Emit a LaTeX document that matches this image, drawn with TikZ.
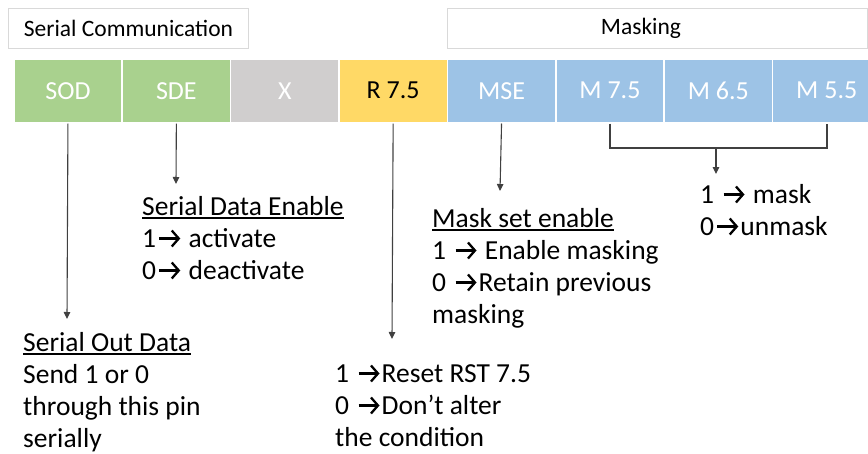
\documentclass[tikz,border=0pt]{standalone}
\usepackage{fontspec}
\setmainfont{Carlito}
\usetikzlibrary{arrows.meta}

\definecolor{sergreen}{HTML}{A9D18E}
\definecolor{resgray}{HTML}{D0CECE}
\definecolor{rstyellow}{HTML}{FFD966}
\definecolor{maskblue}{HTML}{9DC3E6}
\definecolor{framegray}{HTML}{D9D9D9}
\definecolor{linegray}{HTML}{404040}

% right arrow with an open chevron head, used in the descriptions
\newcommand\ra{\hspace{2pt}\tikz[baseline=0pt,x=1pt,y=1pt]\draw[black,line width=2.3pt,
  -{Straight Barb[length=7pt,width=16pt,line width=2.3pt]}] (0,8.5) -- (21,8.5);\hspace{1pt}}
% heading with a thick underline
\newcommand\ulhead[1]{\setbox0\hbox{#1}\rlap{\copy0}\rule[-4pt]{\wd0}{1.6pt}}

\tikzset{
  bitcell/.style={draw=white, line width=1.5pt, minimum width=108.4pt, minimum height=64pt,
    inner sep=0pt, anchor=north west, text=white, font=\fontsize{26}{30}\selectfont},
  groupbox/.style={draw=framegray, line width=1pt, fill=white, minimum height=40pt,
    inner sep=0pt, anchor=north west, font=\fontsize{23.5}{28}\selectfont},
  grouplabel/.style={inner sep=0pt, font=\fontsize{23.5}{28}\selectfont},
  note/.style={align=left, anchor=base west, inner sep=0pt, font=\fontsize{27.5}{32}\selectfont},
  pointer/.style={draw=linegray, line width=1.1pt, -{Triangle[width=6.5pt,length=7pt]}},
  bracketline/.style={draw=linegray, line width=1.1pt}
}

\begin{document}
\begin{tikzpicture}[x=1pt,y=-1pt]
  \useasboundingbox (0,0) rectangle (868,453);
  \begin{scope}
  \clip (0,0) rectangle (868,453);

  % group headings
  \node[groupbox, minimum width=240pt] (serhead) at (8,8) {Serial Communication};
  \node[groupbox, minimum width=420pt] (maskhead) at (447,8) {};
  \node[grouplabel] (masklabel) at (641,28) {Masking};

  % the eight bits of the register
  \node[bitcell, fill=sergreen] (sod) at (13,58) {SOD};
  \node[bitcell, fill=sergreen] (sde) at (121.4,58) {SDE};
  \node[bitcell, fill=resgray] (xbit) at (229.8,58) {X};
  \node[bitcell, fill=rstyellow, text=black] (r75) at (338.2,58) {R 7.5};
  \node[bitcell, fill=maskblue] (mse) at (446.6,58) {MSE};
  \node[bitcell, fill=maskblue] (m75) at (555,58) {M 7.5};
  \node[bitcell, fill=maskblue] (m65) at (663.4,58) {M 6.5};
  \node[bitcell, fill=maskblue] (m55) at (771.8,58) {M 5.5};
  \end{scope}

  % descriptions (placed by the baseline of their last line)
  \node[note] (sdetext) at (142,279) {\ulhead{Serial Data Enable}\\1\ra{} activate\\0\ra{} deactivate};
  \node[note] (sodtext) at (23,447) {\ulhead{Serial Out Data}\\Send 1 or 0\\through this pin\\serially};
  \node[note] (r75text) at (335,446) {1 \ra Reset RST 7.5\\0 \ra Don’t alter\\the condition};
  \node[note] (msetext) at (432,323) {\ulhead{Mask set enable}\\1 \ra{} Enable masking\\0 \ra Retain previous\\masking};
  \node[note] (masktext) at (700,235) {1 \ra{} mask\\0\ra unmask};

  % arrow end points
  \coordinate (sodtip) at (67,319);
  \coordinate (sdetip) at (176,184);
  \coordinate (r75tip) at (392,339);
  \coordinate (msetip) at (500,191);
  \coordinate (masktip) at (716,174);
  \coordinate (bl) at (610,148);
  \coordinate (br) at (827,148);

  \draw[pointer] (sod.south) -- (sodtip);
  \draw[pointer] (sde.south) -- (sdetip);
  \draw[pointer] (r75.south) -- (r75tip);
  \draw[pointer] (mse.south) -- (msetip);

  % bracket joining the three mask bits
  \draw[bracketline] (m75.south -| bl) -- (bl) -- (br) -- (m55.south -| br);
  \draw[pointer] (bl -| masktip) -- (masktip);
\end{tikzpicture}
\end{document}
